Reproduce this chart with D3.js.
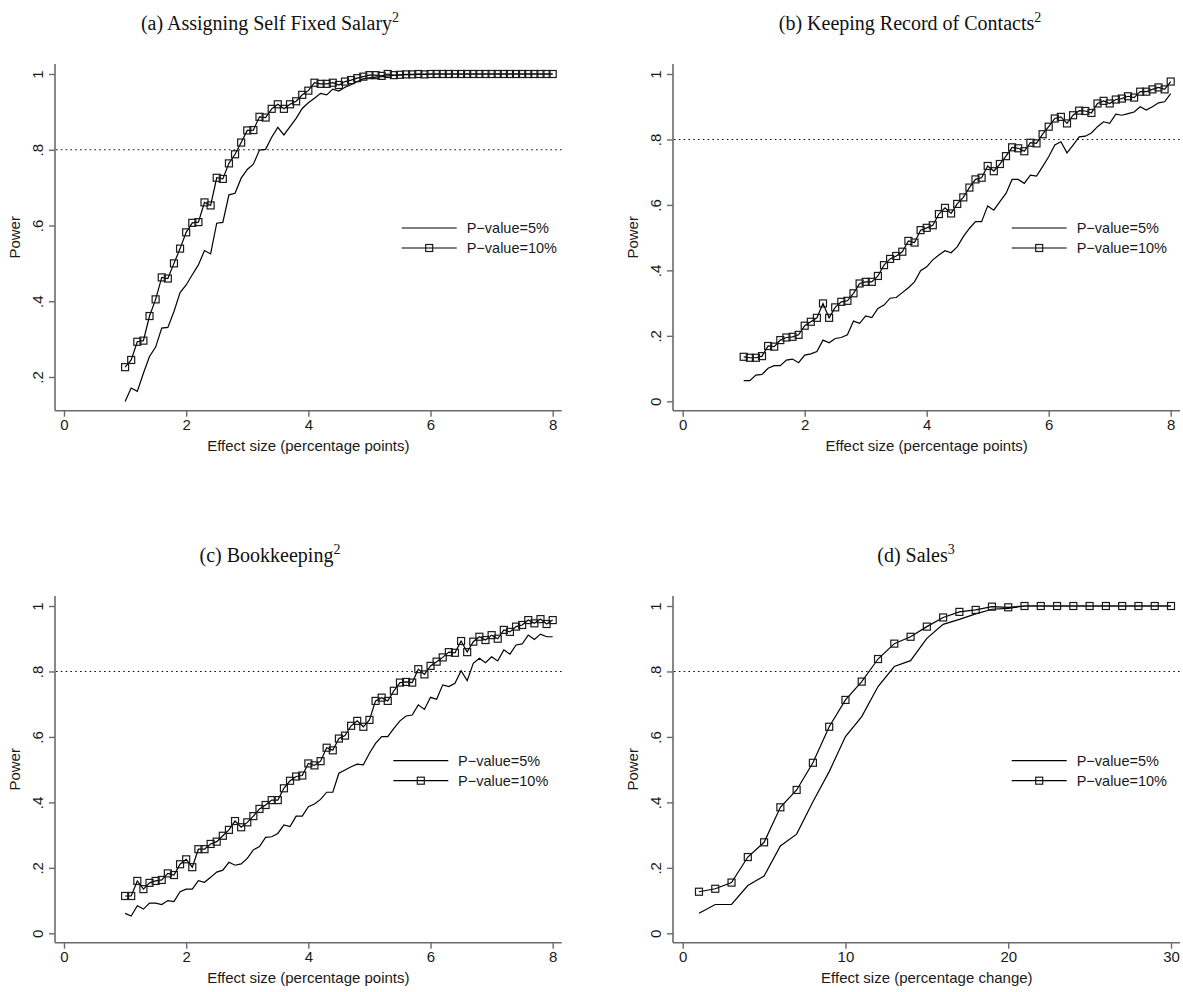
<!DOCTYPE html>
<html><head><meta charset="utf-8">
<script src="https://cdn.jsdelivr.net/npm/d3@7/dist/d3.min.js"></script>
<style>body{margin:0;background:#fff}svg{display:block}</style>
</head><body>
<svg id="chart" width="1183" height="992"></svg>
<script>
// ---------- DATA ----------
const effectPts = [1.0,1.1,1.2,1.3,1.4,1.5,1.6,1.7,1.8,1.9,2.0,2.1,2.2,2.3,2.4,2.5,2.6,2.7,2.8,2.9,3.0,3.1,3.2,3.3,3.4,3.5,3.6,3.7,3.8,3.9,4.0,4.1,4.2,4.3,4.4,4.5,4.6,4.7,4.8,4.9,5.0,5.1,5.2,5.3,5.4,5.5,5.6,5.7,5.8,5.9,6.0,6.1,6.2,6.3,6.4,6.5,6.6,6.7,6.8,6.9,7.0,7.1,7.2,7.3,7.4,7.5,7.6,7.7,7.8,7.9,8.0];
const effectPct = [1,2,3,4,5,6,7,8,9,10,11,12,13,14,15,16,17,18,19,20,21,22,23,24,25,26,27,28,29,30];

const salaryP5 = [.135,.171,.162,.210,.254,.279,.329,.331,.373,.423,.443,.470,.496,.534,.525,.606,.608,.681,.685,.725,.748,.762,.799,.801,.833,.859,.839,.861,.883,.909,.924,.936,.949,.945,.960,.955,.965,.972,.980,.987,.990,.992,.993,.995,.996,.997,.998,.998,.999,.999,1,1,1,1,1,1,1,1,1,1,1,1,1,1,1,1,1,1,1,1,1];
const salaryP10 = [.226,.245,.293,.296,.361,.405,.463,.460,.500,.539,.582,.607,.609,.661,.653,.726,.723,.764,.788,.819,.851,.852,.887,.885,.908,.920,.908,.920,.928,.945,.956,.977,.974,.974,.977,.971,.980,.984,.989,.993,.997,.997,.995,1,.997,.998,.999,.999,1,.999,1,1,1,1,1,1,1,1,1,1,1,1,1,1,1,1,1,1,1,1,1];

const contactsP5 = [.063,.063,.080,.082,.101,.109,.109,.126,.129,.118,.141,.145,.152,.187,.179,.192,.195,.203,.245,.238,.261,.256,.284,.294,.315,.317,.332,.347,.365,.399,.411,.432,.447,.460,.454,.472,.503,.528,.549,.549,.597,.584,.610,.635,.678,.678,.666,.691,.688,.717,.747,.783,.793,.759,.783,.808,.810,.820,.839,.854,.849,.877,.874,.879,.884,.900,.890,.900,.912,.915,.940];
const contactsP10 = [.136,.133,.133,.138,.169,.167,.187,.195,.197,.203,.231,.243,.255,.299,.255,.287,.304,.307,.330,.360,.365,.365,.383,.416,.435,.444,.457,.490,.485,.523,.530,.538,.572,.591,.574,.603,.623,.653,.678,.683,.719,.703,.725,.749,.776,.773,.764,.790,.788,.816,.839,.864,.869,.849,.874,.888,.887,.881,.910,.918,.910,.922,.925,.932,.928,.946,.946,.953,.959,.953,.977];

const bookP5 = [.061,.053,.084,.074,.092,.092,.088,.100,.097,.127,.135,.135,.161,.156,.171,.187,.193,.217,.208,.212,.229,.255,.265,.293,.295,.305,.331,.326,.358,.358,.387,.395,.409,.431,.431,.489,.499,.509,.517,.515,.550,.580,.601,.601,.626,.649,.664,.667,.698,.684,.721,.715,.759,.754,.764,.802,.772,.825,.840,.827,.845,.832,.866,.853,.881,.884,.911,.898,.914,.906,.906];
const bookP10 = [.114,.114,.160,.135,.154,.160,.163,.183,.178,.211,.226,.202,.257,.257,.273,.280,.298,.316,.343,.324,.339,.358,.380,.392,.407,.407,.443,.466,.479,.482,.519,.513,.526,.567,.559,.595,.604,.634,.649,.631,.652,.710,.720,.710,.741,.766,.768,.766,.807,.791,.817,.830,.843,.859,.857,.893,.859,.891,.906,.896,.911,.900,.927,.921,.937,.942,.957,.947,.960,.945,.957];

const salesP5 = [.061,.088,.088,.146,.175,.267,.303,.402,.494,.601,.662,.754,.815,.833,.901,.944,.959,.976,.990,.993,1,1,1,1,1,1,1,1,1,1];
const salesP10 = [.127,.136,.155,.233,.278,.385,.438,.521,.631,.713,.769,.838,.885,.906,.937,.965,.982,.988,.998,.996,1,1,1,1,1,1,1,1,1,1];

const titles = ["(a) Assigning Self Fixed Salary", "(b) Keeping Record of Contacts", "(c) Bookkeeping", "(d) Sales"];
const titleSup = ["2","2","2","3"];
const xTitles = ["Effect size (percentage points)", "Effect size (percentage points)", "Effect size (percentage points)", "Effect size (percentage change)"];
const yTitle = "Power";
const legendLabels = ["P\u2212value=5%", "P\u2212value=10%"];
const yTicksA = [.2,.4,.6,.8,1];
const yTicksFull = [0,.2,.4,.6,.8,1];
const xTicksPts = [0,2,4,6,8];
const xTicksPct = [0,10,20,30];
const yTickLabel = v => v === 0 ? "0" : v === 1 ? "1" : String(v).replace(/^0/, "");
const powerTarget = 0.8;

// ---------- LAYOUT ----------
const panels = [
  {x: effectPts, p5: salaryP5, p10: salaryP10, xd:[0,8], xr:[64,552.7], axX:55, xEnd:561.7,
   yd:[0.2,1], yr:[377,74], yTop:64, axY:410.7, yt:yTicksA, xt:xTicksPts,
   title:{x:270,y:30}, xtitleY:451, leg:{x1:401.7,x2:456.7,y:228,tx:466.7}},
  {x: effectPts, p5: contactsP5, p10: contactsP10, xd:[0,8], xr:[682.7,1170.7], axX:673, xEnd:1180,
   yd:[0,1], yr:[401.3,74], yTop:64, axY:410.7, yt:yTicksFull, xt:xTicksPts,
   title:{x:910,y:30}, xtitleY:451, leg:{x1:1011.7,x2:1066.7,y:228,tx:1076.7}},
  {x: effectPts, p5: bookP5, p10: bookP10, xd:[0,8], xr:[64,552.7], axX:55, xEnd:561.7,
   yd:[0,1], yr:[933.3,606], yTop:596, axY:942.7, yt:yTicksFull, xt:xTicksPts,
   title:{x:270,y:562}, xtitleY:983, leg:{x1:393.3,x2:448.3,y:760.7,tx:458}},
  {x: effectPct, p5: salesP5, p10: salesP10, xd:[0,30], xr:[682.7,1171], axX:673, xEnd:1180,
   yd:[0,1], yr:[933.3,606], yTop:596, axY:942.7, yt:yTicksFull, xt:xTicksPct,
   title:{x:916,y:562}, xtitleY:983, leg:{x1:1011.7,x2:1066.7,y:760.7,tx:1076.7}}
];

const svg = d3.select("#chart");
const axisColor = "#6a6a6a";
const sansFont = "'Liberation Sans', Arial, Helvetica, sans-serif";
const serifFont = "'Liberation Serif', 'Times New Roman', serif";
const msize = 7;
const fs = 15;

panels.forEach((p, i) => {
  const g = svg.append("g");
  const x = d3.scaleLinear().domain(p.xd).range(p.xr);
  const y = d3.scaleLinear().domain(p.yd).range(p.yr);

  // axis lines
  g.append("line").attr("x1", p.axX).attr("x2", p.xEnd).attr("y1", p.axY).attr("y2", p.axY)
    .attr("stroke", axisColor).attr("stroke-width", 1.6);
  g.append("line").attr("x1", p.axX).attr("x2", p.axX).attr("y1", p.yTop).attr("y2", p.axY)
    .attr("stroke", axisColor).attr("stroke-width", 1.6);

  // x axis ticks
  const gx = g.append("g").attr("transform", `translate(0,${p.axY})`)
    .call(d3.axisBottom(x).tickValues(p.xt).tickSize(6).tickPadding(3).tickFormat(d3.format("d")));
  gx.select(".domain").remove();
  gx.selectAll(".tick line").attr("stroke", axisColor).attr("stroke-width", 1.4);
  gx.selectAll(".tick text").attr("font-family", sansFont).attr("font-size", fs).attr("fill", "#1a1a1a");

  // y axis ticks
  const gy = g.append("g").attr("transform", `translate(${p.axX},0)`)
    .call(d3.axisLeft(y).tickValues(p.yt).tickSize(6).tickFormat(yTickLabel));
  gy.select(".domain").remove();
  gy.selectAll(".tick line").attr("stroke", axisColor).attr("stroke-width", 1.4);
  gy.selectAll(".tick text").attr("font-family", sansFont).attr("font-size", fs).attr("fill", "#1a1a1a")
    .attr("transform", "rotate(-90)").attr("x", 0).attr("y", -12).attr("dy", 0).attr("text-anchor", "middle");

  // reference dotted line
  g.append("line").attr("x1", p.axX + 1).attr("x2", p.xEnd).attr("y1", y(powerTarget)).attr("y2", y(powerTarget))
    .attr("stroke", "#111").attr("stroke-width", 1.1).attr("stroke-dasharray", "1.6,3.2");

  // series
  const pts5 = p.x.map((v, k) => [v, p.p5[k]]);
  const pts10 = p.x.map((v, k) => [v, p.p10[k]]);
  const line = d3.line().x(d => x(d[0])).y(d => y(d[1]));
  g.append("path").attr("d", line(pts5)).attr("fill", "none").attr("stroke", "#000").attr("stroke-width", 1.2);
  g.append("path").attr("d", line(pts10)).attr("fill", "none").attr("stroke", "#000").attr("stroke-width", 1.2);
  g.selectAll("rect.m").data(pts10).enter().append("rect").attr("class", "m")
    .attr("x", d => x(d[0]) - msize / 2).attr("y", d => y(d[1]) - msize / 2)
    .attr("width", msize).attr("height", msize)
    .attr("fill", "none").attr("stroke", "#1a1a1a").attr("stroke-width", 1.2);

  // legend
  const L = p.leg;
  g.append("line").attr("x1", L.x1).attr("x2", L.x2).attr("y1", L.y).attr("y2", L.y).attr("stroke", "#000").attr("stroke-width", 1.2);
  g.append("line").attr("x1", L.x1).attr("x2", L.x2).attr("y1", L.y + 20).attr("y2", L.y + 20).attr("stroke", "#000").attr("stroke-width", 1.2);
  g.append("rect").attr("x", (L.x1 + L.x2) / 2 - msize / 2).attr("y", L.y + 20 - msize / 2)
    .attr("width", msize).attr("height", msize).attr("fill", "none").attr("stroke", "#1a1a1a").attr("stroke-width", 1.2);
  legendLabels.forEach((t, k) => {
    g.append("text").attr("x", L.tx).attr("y", L.y + 20 * k).attr("dy", "0.36em")
      .attr("font-family", sansFont).attr("font-size", 14.5).attr("fill", "#1a1a1a").text(t);
  });

  // axis titles
  g.append("text").attr("x", (p.xr[0] + p.xr[1]) / 2).attr("y", p.xtitleY).attr("text-anchor", "middle")
    .attr("font-family", sansFont).attr("font-size", fs).attr("fill", "#1a1a1a").text(xTitles[i]);
  const yMid = (p.yTop + p.axY) / 2;
  g.append("text").attr("transform", `translate(${p.axX - 35},${yMid}) rotate(-90)`).attr("text-anchor", "middle")
    .attr("font-family", sansFont).attr("font-size", fs).attr("fill", "#1a1a1a").text(yTitle);

  // panel title
  const tt = g.append("text").attr("x", p.title.x).attr("y", p.title.y).attr("text-anchor", "middle")
    .attr("font-family", serifFont).attr("font-size", 20).attr("fill", "#111");
  tt.append("tspan").text(titles[i]);
  tt.append("tspan").attr("dy", -8).attr("font-size", 14).text(titleSup[i]);
});
</script>
</body></html>
